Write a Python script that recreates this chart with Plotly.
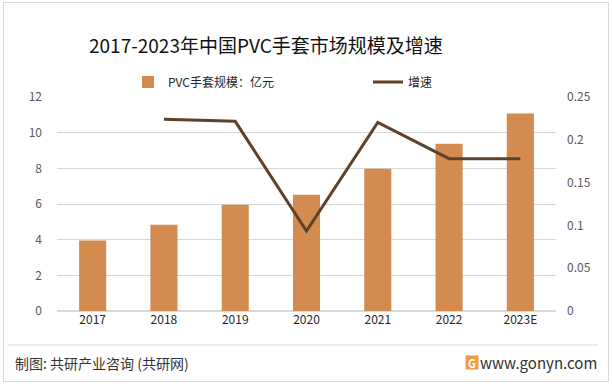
import plotly.graph_objects as go

years = ["2017", "2018", "2019", "2020", "2021", "2022", "2023E"]
market_size = [3.95, 4.83, 5.96, 6.52, 7.98, 9.38, 11.07]
growth_years = ["2018", "2019", "2020", "2021", "2022", "2023E"]
growth_rate = [0.224, 0.2216, 0.0935, 0.2204, 0.178, 0.178]
left_ticks = [0, 2, 4, 6, 8, 10, 12]
right_ticks = [0, 0.05, 0.1, 0.15, 0.2, 0.25]
right_tick_text = ["0", "0.05", "0.1", "0.15", "0.2", "0.25"]

W, H = 613, 386
L, R, T, B = 57, 57, 97, 75
PW, PH = W - L - R, H - T - B


def px(x):
    return (x - L) / PW


def py(y):
    return (H - B - y) / PH


FONT = "Noto Sans CJK SC, Noto Sans, sans-serif"

fig = go.Figure()
fig.add_trace(go.Bar(
    x=years, y=market_size, name="PVC手套规模：亿元",
    marker=dict(color="#d48b4f", line=dict(width=0)),
    yaxis="y", legend="legend",
))
fig.add_trace(go.Scatter(
    x=growth_years, y=growth_rate, name="增速", mode="lines",
    line=dict(color="#5f4128", width=3),
    yaxis="y2", legend="legend2",
))

legend_common = dict(
    orientation="h", yanchor="middle", font=dict(size=12, color="#262626"),
    bgcolor="rgba(0,0,0,0)", borderwidth=0,
)

fig.update_layout(
    width=W, height=H,
    margin=dict(l=L, r=R, t=T, b=B, pad=0),
    paper_bgcolor="white", plot_bgcolor="white",
    font=dict(family=FONT, size=12, color="#595959"),
    bargap=0.62,
    showlegend=True,
    legend=dict(x=px(128), xanchor="left", y=py(82), **legend_common),
    legend2=dict(x=px(368), xanchor="left", y=py(82), **legend_common),
    xaxis=dict(
        type="category", categoryorder="array", categoryarray=years,
        showgrid=False, showline=False, zeroline=False, ticks="",
        tickfont=dict(size=12, color="#262626"),
    ),
    yaxis=dict(
        range=[0, 12], tickvals=left_ticks, showgrid=True, gridcolor="#d9d9d9",
        gridwidth=1, zeroline=True, zerolinecolor="#d9d9d9", showline=False,
        ticks="", ticklabelstandoff=14, tickfont=dict(size=12, color="#595959"),
    ),
    yaxis2=dict(
        range=[0, 0.25], tickvals=right_ticks, ticktext=right_tick_text,
        overlaying="y", side="right", showgrid=False, zeroline=False,
        showline=False, ticks="", ticklabelstandoff=10,
        tickfont=dict(size=12, color="#595959"),
    ),
)

fig.add_annotation(
    text="2017-2023年中国PVC手套市场规模及增速", xref="paper", yref="paper",
    x=px(87), y=py(45), xanchor="left", yanchor="middle", showarrow=False,
    font=dict(size=19, color="#111111", family=FONT),
)
fig.add_annotation(
    text="制图: 共研产业咨询 (共研网)", xref="paper", yref="paper",
    x=px(13), y=py(363), xanchor="left", yanchor="middle", showarrow=False,
    font=dict(size=14, color="#333333", family=FONT),
)
fig.add_annotation(
    text="www.gonyn.com", xref="paper", yref="paper",
    x=px(599), y=py(362), xanchor="right", yanchor="middle", showarrow=False,
    font=dict(size=15, color="#333333", family=FONT),
)
fig.add_annotation(
    text="<b>G</b>", xref="paper", yref="paper",
    x=px(472), y=py(362), xanchor="center", yanchor="middle", showarrow=False,
    font=dict(size=11, color="white", family=FONT), bgcolor="#f29a4a",
    width=12, height=13, borderpad=0,
)

# outer frame and footer separator
fig.add_shape(type="rect", xref="paper", yref="paper",
              x0=px(3.5), x1=px(608.5), y0=py(381.5), y1=py(2.5),
              line=dict(color="#d9d9d9", width=1), fillcolor="rgba(0,0,0,0)", layer="below")
fig.add_shape(type="line", xref="paper", yref="paper",
              x0=px(8), x1=px(598), y0=py(345), y1=py(345),
              line=dict(color="#d9d9d9", width=1))

fig.write_html("out.html", config={"displayModeBar": False},
               post_script="document.body.style.margin='0';")
